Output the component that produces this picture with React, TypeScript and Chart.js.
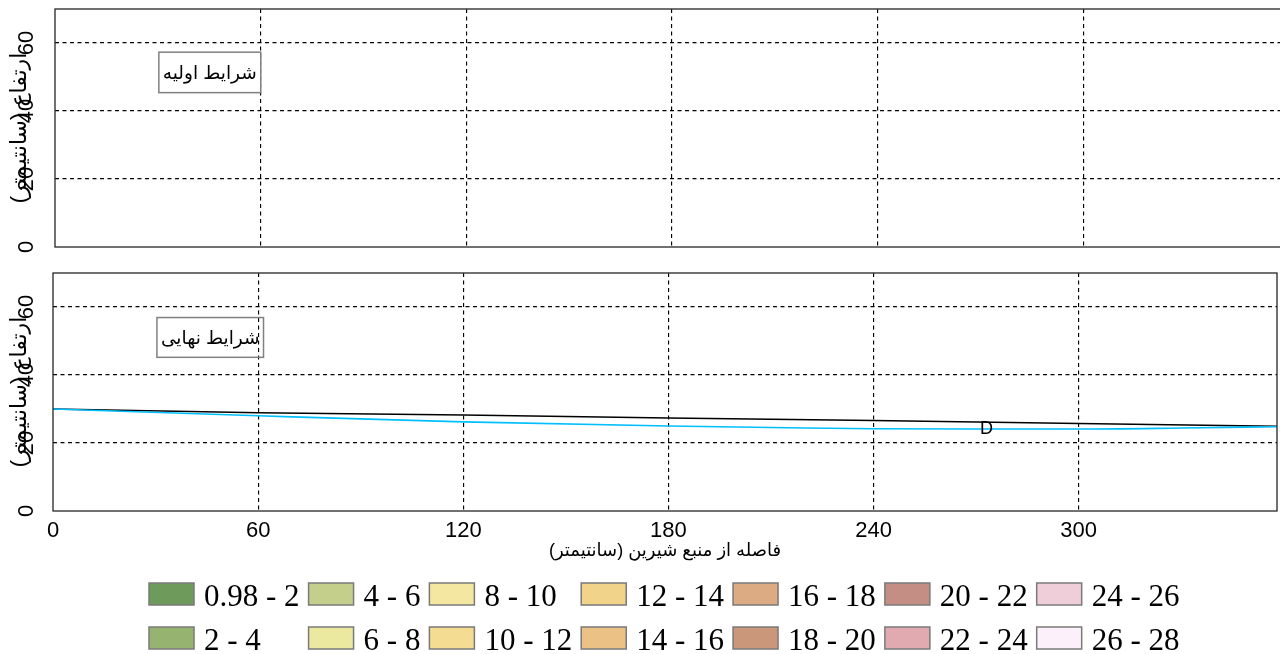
import React, { useEffect, useRef } from 'react';
import { Chart, registerables } from 'chart.js';

Chart.register(...registerables);

// ---------- data ----------
const X_MAX = 358;
const Y_MAX = 70;
const xTickValues = [0, 60, 120, 180, 240, 300];
const yTickValues = [0, 20, 40, 60];

// final water-table (black) and interface (cyan) in the lower panel
const surfaceDistance = [0, 60, 120, 180, 240, 300, 358];
const surfaceHeight = [30, 28.9, 28.2, 27.35, 26.6, 25.7, 24.9];
const interfaceDistance = [0, 60, 120, 180, 220, 240, 270, 300, 330, 358];
const interfaceHeight = [30, 28.0, 26.2, 25.0, 24.4, 24.2, 24.1, 24.1, 24.4, 24.8];

const legendLabels = [
  '0.98 - 2', '2 - 4', '4 - 6', '6 - 8', '8 - 10', '10 - 12', '12 - 14',
  '14 - 16', '16 - 18', '18 - 20', '20 - 22', '22 - 24', '24 - 26', '26 - 28',
];
const legendColors = [
  '#6e9a5b', '#96b46f', '#c3cf8b', '#ebe99f', '#f3e7a1', '#f4dc93', '#f2d38a',
  '#ebc186', '#dcab84', '#cb977b', '#c58e84', '#e0aab0', '#efcdd9', '#fcf0fb',
];

const yTitle = 'ارتفاع (سانتیمتر)';
const xTitle = 'فاصله از منبع شیرین (سانتیمتر)';
const topPanelLabel = 'شرایط اولیه';
const bottomPanelLabel = 'شرایط نهایی';
const contourLabel = 'D';
const contourLabelX = 273;
const contourLabelY = 24.2;

// ---------- styling helpers ----------
const SANS = '"Liberation Sans", "DejaVu Sans", Arial, sans-serif';
const SERIF = '"Liberation Serif", "Times New Roman", serif';
const rtl = (s: string) => '\u202B' + s + '\u202C';

function buildScales(showX: boolean, yAxisWidth: number): any {
  const gridColor = (c: any) => (c.tick && c.tick.value === 0 ? 'rgba(0,0,0,0)' : '#000000');
  const grid = { color: gridColor, lineWidth: 1.15, drawTicks: false, tickLength: 0 };
  const border = { display: false, dash: [4, 3.5] };
  return {
    x: {
      type: 'linear',
      min: 0,
      max: X_MAX,
      grid,
      border,
      afterBuildTicks: (s: any) => {
        s.ticks = xTickValues.map((value) => ({ value }));
      },
      ticks: {
        display: showX,
        color: '#000',
        font: { family: SANS, size: 22 },
        padding: 7,
        maxRotation: 0,
        minRotation: 0,
        autoSkip: false,
      },
      title: {
        display: showX,
        text: rtl(xTitle),
        color: '#000',
        font: { family: SANS, size: 18 },
        padding: { top: 0, bottom: 9 },
      },
      afterFit: (s: any) => {
        s.height = showX ? 60 : 0;
        s.paddingLeft = 0;
        s.paddingRight = 0;
        s.paddingTop = 0;
        s.paddingBottom = 0;
      },
    },
    y: {
      type: 'linear',
      min: 0,
      max: Y_MAX,
      grid,
      border,
      afterBuildTicks: (s: any) => {
        s.ticks = yTickValues.map((value) => ({ value }));
      },
      ticks: {
        color: '#000',
        font: { family: SANS, size: 22 },
        minRotation: 90,
        maxRotation: 90,
        crossAlign: 'center',
        padding: yAxisWidth - 39,
        autoSkip: false,
      },
      title: {
        display: true,
        text: rtl(yTitle),
        color: '#000',
        font: { family: SANS, size: 22 },
        padding: { top: 7, bottom: 0 },
      },
      afterFit: (s: any) => {
        s.width = yAxisWidth;
        s.paddingLeft = 0;
        s.paddingRight = 0;
        s.paddingTop = 0;
        s.paddingBottom = 0;
      },
    },
  };
}

const framePlugin = {
  id: 'frame',
  afterDatasetsDraw(chart: any) {
    const { ctx, chartArea: a } = chart;
    ctx.save();
    ctx.strokeStyle = '#262626';
    ctx.lineWidth = 1.3;
    ctx.strokeRect(a.left, a.top, a.right - a.left, a.bottom - a.top);
    ctx.restore();
  },
};

const boxLabelPlugin = {
  id: 'boxLabel',
  afterDatasetsDraw(chart: any, _args: any, opts: any) {
    if (!opts || !opts.text) return;
    const { ctx } = chart;
    const xs = chart.scales.x;
    const ys = chart.scales.y;
    const left = xs.getPixelForValue(opts.x);
    const top = ys.getPixelForValue(opts.yTop);
    const bottom = ys.getPixelForValue(opts.yBottom);
    ctx.save();
    ctx.font = `18.5px ${SANS}`;
    const w = ctx.measureText(rtl(opts.text)).width;
    const pad = 4;
    ctx.strokeStyle = '#808080';
    ctx.lineWidth = 1.5;
    ctx.strokeRect(left, top, w + pad * 2, bottom - top);
    ctx.fillStyle = '#000';
    ctx.textAlign = 'left';
    ctx.textBaseline = 'middle';
    ctx.fillText(rtl(opts.text), left + pad, (top + bottom) / 2 + 1);
    ctx.restore();
  },
};

const pointLabelPlugin = {
  id: 'pointLabel',
  afterDatasetsDraw(chart: any, _args: any, opts: any) {
    if (!opts || !opts.text) return;
    const { ctx } = chart;
    const px = chart.scales.x.getPixelForValue(opts.x);
    const py = chart.scales.y.getPixelForValue(opts.y);
    ctx.save();
    ctx.font = `18px ${SANS}`;
    ctx.fillStyle = '#000';
    ctx.textAlign = 'center';
    ctx.textBaseline = 'middle';
    ctx.fillText(opts.text, px, py);
    ctx.restore();
  },
};

const gridLegendPlugin = {
  id: 'gridLegend',
  afterDraw(chart: any, _args: any, opts: any) {
    if (!opts || !opts.labels) return;
    const { ctx } = chart;
    const labels: string[] = opts.labels;
    const colors: string[] = opts.colors;
    const rows = 2;
    const cols = Math.ceil(labels.length / rows);
    const boxW = 45;
    const boxH = 22;
    ctx.save();
    (ctx as any).direction = 'ltr';
    ctx.font = `31px ${SERIF}`;
    ctx.textAlign = 'left';
    ctx.textBaseline = 'alphabetic';
    let x = opts.left;
    for (let c = 0; c < cols; c++) {
      let maxW = 0;
      for (let r = 0; r < rows; r++) {
        const i = c * rows + r;
        if (i < labels.length) maxW = Math.max(maxW, ctx.measureText(labels[i]).width);
      }
      for (let r = 0; r < rows; r++) {
        const i = c * rows + r;
        if (i >= labels.length) continue;
        const top = opts.rowTops[r];
        ctx.fillStyle = colors[i];
        ctx.fillRect(x, top, boxW, boxH);
        ctx.strokeStyle = '#7a7a7a';
        ctx.lineWidth = 1.5;
        ctx.strokeRect(x, top, boxW, boxH);
        ctx.fillStyle = '#000';
        ctx.fillText(labels[i], x + boxW + 10, top + boxH + 1);
      }
      x += boxW + 10 + maxW + 9;
    }
    ctx.restore();
  },
};

export default function App() {
  const topRef = useRef<HTMLCanvasElement | null>(null);
  const bottomRef = useRef<HTMLCanvasElement | null>(null);

  useEffect(() => {
    if (!topRef.current || !bottomRef.current) return;

    const topChart = new Chart(topRef.current, {
      type: 'line',
      data: { datasets: [] },
      options: {
        animation: false,
        responsive: false,
        devicePixelRatio: 1,
        layout: { padding: { top: 9, bottom: 15, left: 0, right: 2 } },
        scales: buildScales(false, 55),
        plugins: {
          legend: { display: false },
          tooltip: { enabled: false },
          boxLabel: { text: topPanelLabel, x: 30.3, yTop: 57.3, yBottom: 45.4 },
        } as any,
      },
      plugins: [framePlugin, boxLabelPlugin],
    } as any);

    const bottomChart = new Chart(bottomRef.current, {
      type: 'line',
      data: {
        datasets: [
          {
            label: 'interface',
            data: interfaceDistance.map((x, i) => ({ x, y: interfaceHeight[i] })),
            borderColor: '#00bfff',
            borderWidth: 1.6,
            pointRadius: 0,
            cubicInterpolationMode: 'monotone',
            fill: false,
          },
          {
            label: 'surface',
            data: surfaceDistance.map((x, i) => ({ x, y: surfaceHeight[i] })),
            borderColor: '#000000',
            borderWidth: 1.5,
            pointRadius: 0,
            tension: 0,
            fill: false,
          },
        ],
      },
      options: {
        animation: false,
        responsive: false,
        devicePixelRatio: 1,
        layout: { padding: { top: 11, bottom: 83, left: 0, right: 3 } },
        scales: buildScales(true, 53),
        plugins: {
          legend: { display: false },
          tooltip: { enabled: false },
          boxLabel: { text: bottomPanelLabel, x: 30.4, yTop: 56.9, yBottom: 45.2 },
          pointLabel: { text: contourLabel, x: contourLabelX, y: contourLabelY },
          gridLegend: { labels: legendLabels, colors: legendColors, left: 149, rowTops: [321, 365] },
        } as any,
      },
      plugins: [framePlugin, boxLabelPlugin, pointLabelPlugin, gridLegendPlugin],
    } as any);

    return () => {
      topChart.destroy();
      bottomChart.destroy();
    };
  }, []);

  return (
    <div
      style={{
        position: 'absolute',
        left: 0,
        top: 0,
        width: 1280,
        height: 654,
        overflow: 'hidden',
        background: '#ffffff',
      }}
    >
      <canvas
        ref={topRef}
        width={1284}
        height={262}
        style={{ position: 'absolute', left: 0, top: 0, width: 1284, height: 262 }}
      />
      <canvas
        ref={bottomRef}
        width={1280}
        height={392}
        style={{ position: 'absolute', left: 0, top: 262, width: 1280, height: 392 }}
      />
    </div>
  );
}
